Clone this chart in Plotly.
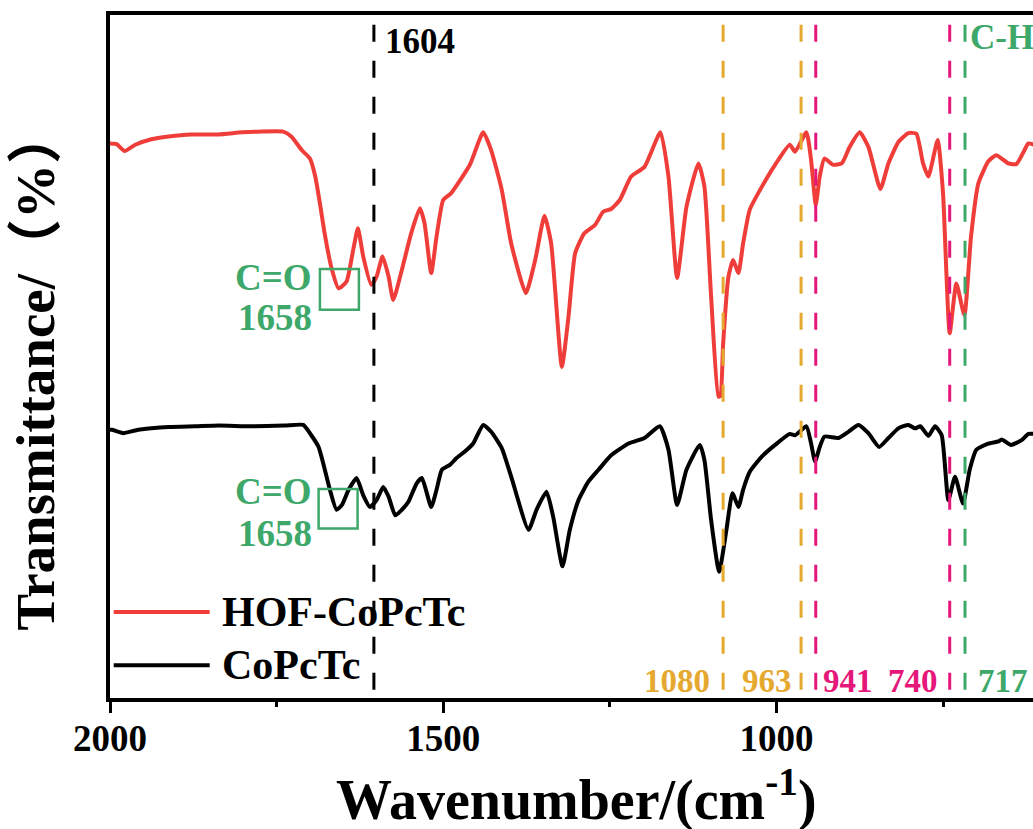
import plotly.graph_objects as go

# ---------------- data ----------------
wn_hof = [2000, 1990, 1978, 1962, 1938, 1912, 1878, 1837, 1802, 1777, 1740, 1728, 1712, 1700, 1692,
          1685, 1678, 1668, 1657, 1645, 1635, 1628, 1620, 1608, 1600, 1591, 1582, 1575, 1562, 1548,
          1535, 1528, 1518, 1510, 1500, 1488, 1460, 1440, 1428, 1412, 1398, 1376, 1362, 1348, 1338,
          1322, 1312, 1302, 1288, 1272, 1260, 1248, 1235, 1218, 1198, 1174, 1162, 1149, 1135, 1117,
          1108, 1098, 1087, 1084, 1080, 1072, 1065, 1057, 1050, 1040, 1022, 1002, 980, 972, 955,
          948, 941, 935, 928, 915, 902, 890, 875, 862, 844, 832, 817, 802, 790, 780,
          772, 758, 750, 740, 730, 718, 708, 697, 682, 670, 652, 640, 630, 622, 613]
t_hof = [81.1, 81.0, 80.0, 80.9, 81.7, 82.1, 82.4, 82.4, 82.7, 82.8, 82.8, 82.1, 80.1, 78.9, 76.3,
         72.4, 68.1, 63.2, 60.1, 61.1, 65.7, 68.8, 64.7, 60.6, 61.8, 64.7, 61.8, 58.4, 62.8, 68.1,
         71.7, 69.5, 62.3, 67.6, 72.9, 73.9, 78.0, 82.7, 80.1, 74.3, 66.6, 59.4, 64.2, 70.6, 66.6,
         48.7, 56.0, 65.2, 68.1, 69.3, 71.2, 71.6, 72.9, 76.3, 77.7, 82.7, 76.3, 61.6, 71.9, 78.2,
         74.8, 58.9, 44.4, 44.5, 52.0, 61.8, 64.2, 62.3, 66.6, 71.5, 74.8, 78.0, 80.9, 79.9, 82.7,
         78.7, 72.2, 76.3, 78.9, 78.0, 78.2, 80.6, 82.7, 80.6, 74.5, 78.2, 81.3, 82.6, 82.5, 78.2,
         76.3, 81.6, 73.9, 53.6, 60.8, 56.2, 67.6, 75.3, 78.5, 79.4, 78.2, 78.1, 79.7, 81.1, 80.9]

wn_co = [2000, 1997, 1980, 1962, 1938, 1912, 1872, 1837, 1788, 1738, 1710, 1698, 1687, 1680, 1670,
         1660, 1652, 1642, 1630, 1620, 1610, 1600, 1590, 1582, 1572, 1562, 1552, 1540, 1532, 1518,
         1510, 1502, 1490, 1480, 1468, 1455, 1440, 1428, 1412, 1398, 1372, 1360, 1345, 1335, 1321,
         1310, 1297, 1282, 1267, 1248, 1222, 1198, 1175, 1162, 1149, 1135, 1115, 1108, 1098, 1086,
         1075, 1066, 1057, 1050, 1040, 1022, 1002, 980, 972, 955, 948, 942, 935, 928, 907,
         892, 877, 862, 846, 832, 817, 802, 792, 784, 772, 762, 752, 742, 732, 720,
         710, 700, 682, 667, 662, 648, 632, 622, 613]
t_co = [39.6, 39.6, 39.1, 39.5, 39.8, 40.0, 40.1, 40.2, 40.1, 40.2, 40.3, 38.8, 37.1, 34.7, 30.9,
        28.0, 28.7, 30.9, 32.6, 30.1, 28.4, 29.4, 31.3, 29.9, 27.2, 28.0, 29.2, 31.8, 32.6, 28.4,
        30.9, 33.8, 34.5, 35.5, 36.4, 37.6, 40.3, 39.3, 36.9, 32.8, 25.1, 28.0, 30.6, 27.0, 19.8,
        25.1, 29.4, 32.1, 33.8, 35.9, 37.6, 38.4, 40.1, 36.7, 28.7, 33.8, 37.4, 35.2, 26.5, 19.0,
        25.1, 30.4, 28.4, 30.9, 33.5, 35.7, 37.4, 39.0, 38.8, 40.1, 37.6, 35.0, 37.1, 38.6, 38.4,
        39.3, 40.3, 39.1, 37.1, 38.4, 39.8, 40.3, 39.8, 40.1, 38.7, 40.1, 38.8, 29.4, 32.8, 28.9,
        33.8, 36.7, 37.6, 37.9, 38.2, 37.4, 38.1, 39.0, 39.0]

series_names = ["HOF-CoPcTc", "CoPcTc"]
peak_positions = [1604, 1080, 963, 941, 740, 717]
bottom_labels = ["1080", "963", "941", "740", "717"]
bottom_label_pos = [1080, 963, 941, 740, 717]
x_ticks = [2000, 1500, 1000]

# ---------------- style ----------------
RED = "#EF3E3A"
BLACK = "#000000"
YELLOW = "#E5A92F"
MAGENTA = "#E6177A"
GREEN = "#3DA86A"
peak_colors = [BLACK, YELLOW, YELLOW, MAGENTA, MAGENTA, GREEN]
bottom_colors = [YELLOW, YELLOW, MAGENTA, MAGENTA, GREEN]
bottom_anchor = ["right", "right", "left", "right", "left"]
bottom_shift = [-11, -7, 5, -10, 11]
FONT = "Liberation Serif, Times New Roman, serif"

Y_MIN, Y_MAX = 0.72, 99.71

fig = go.Figure()
fig.add_trace(go.Scatter(x=wn_hof, y=t_hof, mode="lines", name=series_names[0],
                         line=dict(color=RED, width=4, shape="spline", smoothing=0.5)))
fig.add_trace(go.Scatter(x=wn_co, y=t_co, mode="lines", name=series_names[1],
                         line=dict(color=BLACK, width=4, shape="spline", smoothing=0.5)))

shapes = []
for pos, col in zip(peak_positions, peak_colors):
    shapes.append(dict(type="line", xref="x", yref="y", x0=pos, x1=pos, y0=98.3, y1=Y_MIN,
                       line=dict(color=col, width=3, dash="17px,19px"), layer="above"))
# C=O boxes
shapes.append(dict(type="rect", xref="x", yref="y", x0=1685, x1=1626.5, y0=57.0, y1=62.9,
                   line=dict(color=GREEN, width=2.5), layer="above"))
shapes.append(dict(type="rect", xref="x", yref="y", x0=1687, x1=1628.5, y0=25.3, y1=31.0,
                   line=dict(color=GREEN, width=2.5), layer="above"))
# legend lines
for yy, col in zip([0.126, 0.048], [RED, BLACK]):
    shapes.append(dict(type="line", xref="paper", yref="paper", x0=0.004, x1=0.108, y0=yy, y1=yy,
                       line=dict(color=col, width=4)))

ann = []
ann.append(dict(x=1604, y=95.9, xref="x", yref="y", text="1604", showarrow=False,
                xanchor="left", yanchor="middle", xshift=9,
                font=dict(family=FONT, size=35, color=BLACK, weight="bold")))
ann.append(dict(x=717, y=96.4, xref="x", yref="y", text="C-H", showarrow=False,
                xanchor="left", yanchor="middle", xshift=3,
                font=dict(family=FONT, size=35, color=GREEN, weight="bold")))
for yy, txt in [(61.6, "C=O"), (55.8, "1658"), (30.6, "C=O"), (24.6, "1658")]:
    ann.append(dict(x=1685, y=yy, xref="x", yref="y", text=txt, showarrow=False,
                    xanchor="right", yanchor="middle", xshift=-6,
                    font=dict(family=FONT, size=37, color=GREEN, weight="bold")))
for txt, pos, col, anc, sh in zip(bottom_labels, bottom_label_pos, bottom_colors, bottom_anchor, bottom_shift):
    ann.append(dict(x=pos, y=3.2, xref="x", yref="y", text=txt, showarrow=False,
                    xanchor=anc, yanchor="middle", xshift=sh,
                    font=dict(family=FONT, size=33, color=col, weight="bold")))
for yy, name in zip([0.126, 0.048], series_names):
    ann.append(dict(x=0.119, y=yy, xref="paper", yref="paper", text=name, showarrow=False,
                    xanchor="left", yanchor="middle",
                    font=dict(family=FONT, size=42, color=BLACK, weight="bold")))
# axis titles
ann.append(dict(x=0.505, y=-0.143, xref="paper", yref="paper",
                text="Wavenumber/(cm<sup>-1</sup>)", showarrow=False,
                xanchor="center", yanchor="middle",
                font=dict(family=FONT, size=56, color=BLACK, weight="bold")))
ann.append(dict(x=-0.081, y=0.48, xref="paper", yref="paper",
                text="Transmittance/（%）", showarrow=False, textangle=-90,
                xanchor="center", yanchor="middle",
                font=dict(family=FONT + ", Noto Sans CJK SC", size=55, color=BLACK, weight="bold")))

fig.update_layout(
    width=1033, height=829,
    margin=dict(l=110, r=0, t=15, b=131),
    paper_bgcolor="white", plot_bgcolor="white",
    showlegend=False,
    shapes=shapes, annotations=ann,
    xaxis=dict(range=[2000, 615], tickvals=x_ticks, ticktext=[str(v) for v in x_ticks],
               showgrid=False, zeroline=False,
               showline=True, linecolor="black", linewidth=4, mirror=True,
               ticks="outside", ticklen=11, tickwidth=3, tickcolor="black",
               ticklabelstandoff=-6,
               minor=dict(ticks="outside", ticklen=5, tickwidth=3, tickcolor="black", dtick=250, showgrid=False),
               tickfont=dict(family=FONT, size=37, color=BLACK, weight="bold")),
    yaxis=dict(range=[Y_MIN, Y_MAX], showgrid=False, zeroline=False, showticklabels=False,
               showline=True, linecolor="black", linewidth=4, ticks=""),
)

fig.write_html("out.html")
